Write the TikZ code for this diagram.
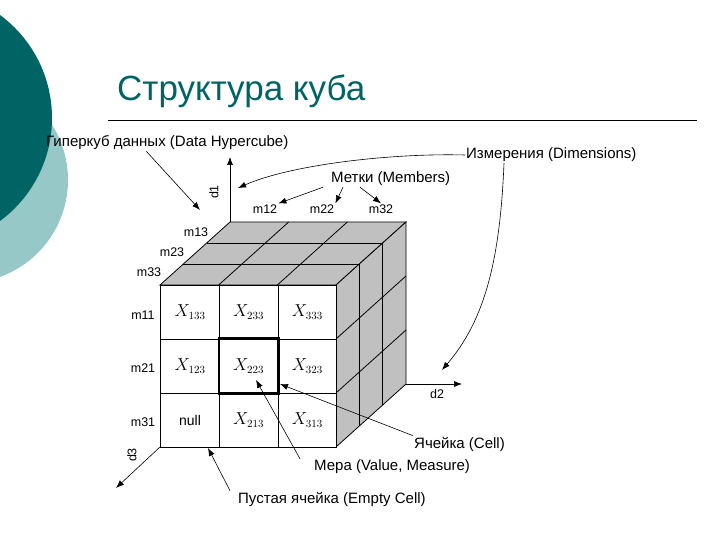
\documentclass[tikz,border=0pt]{standalone}
\usepackage{fontspec}
\setmainfont{Liberation Sans}
\usetikzlibrary{arrows.meta,positioning,calc}
\definecolor{deepteal}{RGB}{0,100,100}
\definecolor{paleteal}{RGB}{150,200,200}
\definecolor{cubegray}{RGB}{192,192,192}

\tikzset{
  pointer/.style={-{Latex[length=8pt,width=6pt]}, line width=0.6pt},
  caption/.style={font=\fontsize{15}{17}\selectfont, inner sep=1pt, anchor=west},
  member/.style={font=\fontsize{12.5}{14}\selectfont, inner sep=1pt},
  cellbox/.style={draw, fill=white, minimum width=58.67pt, minimum height=54pt,
                  inner sep=0pt, line width=0.8pt, font=\fontsize{16}{18}\selectfont},
  face/.style={draw, fill=cubegray, line width=0.8pt},
}

\begin{document}
\begin{tikzpicture}[x=1pt, y=-1pt]
  \useasboundingbox (0,0) rectangle (720,540);

  % Decorative circles on the left
  \fill[paleteal] (-35,180) circle (103pt);
  \fill[deepteal] (-76,118) circle (128pt);

  % Title and rule
  \node[font=\fontsize{35}{40}\selectfont, text=deepteal, anchor=base west, inner sep=0pt]
    (title) at (117,101) {Структура куба};
  \draw[line width=0.8pt] (108,120) -- (697,120);

  % Cube corners (front face 3x3, three layers deep)
  \coordinate (FTL) at (160,285);
  \coordinate (FTR) at (336,285);
  \coordinate (FBL) at (160,447);
  \coordinate (FBR) at (336,447);
  \coordinate (BTL) at (230,222);
  \coordinate (BTR) at (406,222);
  \coordinate (BBR) at (406,384);

  % Top face
  \draw[face] (FTL) -- (FTR) -- (BTR) -- (BTL) -- cycle;
  \foreach \k in {1,2}{
    \draw[line width=0.8pt] ($(FTL)+(\k*23.33,-\k*21)$) -- ($(FTR)+(\k*23.33,-\k*21)$);
    \draw[line width=0.8pt] ($(FTL)+(\k*58.67,0)$) -- ($(BTL)+(\k*58.67,0)$);
  }

  % Right face
  \draw[face] (FTR) -- (BTR) -- (BBR) -- (FBR) -- cycle;
  \foreach \k in {1,2}{
    \draw[line width=0.8pt] ($(FTR)+(\k*23.33,-\k*21)$) -- ($(FBR)+(\k*23.33,-\k*21)$);
    \draw[line width=0.8pt] ($(FTR)+(0,\k*54)$) -- ($(BTR)+(0,\k*54)$);
  }

  % Front face cells
  \foreach \c/\r/\val in {1/1/{$X_{133}$}, 2/1/{$X_{233}$}, 3/1/{$X_{333}$},
                          1/2/{$X_{123}$}, 2/2/{$X_{223}$}, 3/2/{$X_{323}$},
                          1/3/{\fontsize{14}{16}\selectfont null}, 2/3/{$X_{213}$}, 3/3/{$X_{313}$}}{
    \node[cellbox] (c\c\r) at ({131.33+58.67*\c},{258+54*\r}) {\val};
  }
  \draw[line width=2.6pt] (c22.north west) rectangle (c22.south east);

  % Axes
  \coordinate (d1end) at (230,157);
  \coordinate (d2end) at (462,384);
  \coordinate (d3end) at (116,488);
  \draw[pointer] (BTL) -- (d1end);
  \draw[pointer] (BBR) -- (d2end);
  \draw[pointer] (FBL) -- (d3end);
  \node[member, rotate=90] (d1) at (214,192) {d1};
  \node[member] (d2) at (437,394) {d2};
  \node[member, rotate=90] (d3) at (132,455) {d3};

  % Members along the three dimensions
  \node[member] (m12) at (265,209) {m12};
  \node[member] (m22) at (322,209) {m22};
  \node[member] (m32) at (381,209) {m32};
  \node[member] (m13) at (196,232) {m13};
  \node[member] (m23) at (172,252) {m23};
  \node[member] (m33) at (149,272) {m33};
  \node[member] (m11) at (143,315) {m11};
  \node[member] (m21) at (143,368) {m21};
  \node[member] (m31) at (143,422) {m31};

  % Captions
  \node[caption] (hyper) at (45,143) {Гиперкуб данных (Data Hypercube)};
  \node[caption] (dims) at (465,155) {Измерения (Dimensions)};
  \node[caption] (members) at (330,179) {Метки (Members)};
  \node[caption] (cell) at (413,444) {Ячейка (Cell)};
  \node[caption] (measure) at (313,467) {Мера (Value, Measure)};
  \node[caption] (empty) at (237,499) {Пустая ячейка (Empty Cell)};

  % Pointers from the captions
  \coordinate (hyperTip) at (200,210);
  \coordinate (dimsTipA) at (238,188);
  \coordinate (dimsTipB) at (442,370);
  \coordinate (cellTip) at (280,384);
  \coordinate (measureTip) at (256,380);
  \coordinate (emptyTip) at (208,448);
  \draw[pointer] ([xshift=-21pt]hyper.south) -- (hyperTip);
  \draw[pointer] (dims.west) .. controls (390,153) and (290,165) .. (dimsTipA);
  \draw[pointer] ([xshift=39pt]dims.south west) .. controls (500,260) and (485,320) .. (dimsTipB);
  \draw[pointer] ([xshift=-7pt]members.south west) -- (m12.north east);
  \draw[pointer] ([xshift=13pt]members.south west) -- (m22.north east);
  \draw[pointer] ([xshift=30pt]members.south west) -- (m32.north);
  \draw[pointer] (cell.north west) -- (cellTip);
  \draw[pointer] ([xshift=-13pt]measure.north west) -- (measureTip);
  \draw[pointer] ([xshift=-7pt]empty.north west) -- (emptyTip);
\end{tikzpicture}
\end{document}
